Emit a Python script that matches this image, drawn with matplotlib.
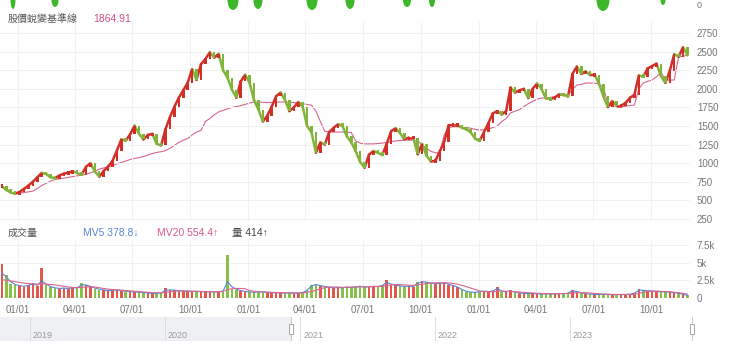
import numpy as np
import pandas as pd
import matplotlib
matplotlib.use('Agg')
import matplotlib.pyplot as plt
import matplotlib.dates as mdates
from matplotlib.patches import Ellipse, Rectangle
from matplotlib.collections import LineCollection

plt.rcParams['font.family'] = ['Liberation Sans', 'Noto Sans CJK TC', 'DejaVu Sans']

# weekly candles, Dec 2020 - Nov 2023
closes = [
    690, 640, 605, 590, 615, 655, 700, 750, 810, 870,
    855, 810, 800, 835, 860, 872, 893, 868, 845, 950,
    1000, 890, 820, 895, 955, 1030, 1170, 1320, 1303, 1390,
    1505, 1395, 1320, 1380, 1395, 1260, 1240, 1460, 1621, 1760,
    1880, 1980, 2080, 2265, 2120, 2330, 2400, 2490, 2420, 2470,
    2250, 2150, 1990, 1880, 2100, 2190, 2080, 1850, 1720, 1560,
    1640, 1760, 1900, 1950, 1850, 1700, 1750, 1823, 1760, 1500,
    1415, 1140, 1280, 1250, 1420, 1475, 1525, 1500, 1360, 1280,
    1160, 1016, 940, 1115, 1165, 1140, 1110, 1260, 1430, 1470,
    1405, 1320, 1345, 1345, 1120, 1260, 1100, 1025, 1030, 1160,
    1290, 1510, 1512, 1512, 1476, 1455, 1415, 1330, 1300, 1420,
    1540, 1670, 1700, 1655, 1700, 2020, 1950, 1980, 2000, 1876,
    2000, 2070, 2000, 1870, 1865, 1880, 1930, 1915, 1900, 2200,
    2300, 2200, 2235, 2185, 2190, 2070, 1900, 1755, 1835, 1775,
    1775, 1810, 1880, 1920, 2180, 2160, 2275, 2305, 2340, 2170,
    2080, 2240, 2465, 2430, 2560, 2450,
]

# 股價蛻變基準線
baseline = [
    np.nan, np.nan, np.nan, np.nan, 600, 605, 615, 625, 660, 700,
    730, 760, 780, 790, 800, 810, 820, 830, 840, 850,
    870, 890, 920, 936, 950, 970, 990, 1010, 1030, 1050,
    1065, 1075, 1090, 1110, 1130, 1145, 1155, 1170, 1200, 1240,
    1280, 1310, 1330, 1380, 1419, 1440, 1560, 1600, 1650, 1690,
    1710, 1730, 1750, 1760, 1775, 1790, 1810, 1823, 1823, 1820,
    1815, 1815, 1820, 1823, 1823, 1820, 1815, 1810, 1800, 1790,
    1780, 1700, 1560, 1430, 1419, 1419, 1419, 1419, 1419, 1410,
    1300, 1270, 1260, 1260, 1260, 1265, 1270, 1280, 1290, 1300,
    1305, 1310, 1310, 1310, 1300, 1250, 1200, 1160, 1140, 1137,
    1380, 1480, 1490, 1490, 1487, 1480, 1470, 1455, 1446, 1450,
    1460, 1480, 1500, 1560, 1600, 1675, 1700, 1720, 1760, 1800,
    1830, 1860, 1876, 1880, 1885, 1895, 1910, 1917, 1925, 1990,
    2051, 2060, 2078, 2078, 2078, 2060, 2020, 1800, 1760, 1755,
    1755, 1765, 1775, 1782, 2000, 2078, 2100, 2118, 2160, 2226,
    2118, 2118, 2118, 2428, 2440, 2450,
]

volume = [
    4800, 3200, 2000, 1900, 1700, 1600, 1900, 2100, 1700, 4200,
    1800, 1500, 1400, 1300, 1400, 1300, 1500, 1400, 2100, 1900,
    1600, 1300, 1200, 1100, 1000, 1100, 1200, 1000, 900, 900,
    850, 800, 750, 700, 600, 650, 700, 1400, 1200, 1100,
    1000, 1000, 950, 900, 950, 900, 850, 900, 850, 900,
    1000, 6100, 1300, 1200, 1000, 900, 850, 800, 900, 850,
    800, 750, 700, 750, 700, 700, 650, 700, 800, 1200,
    1900, 2000, 1700, 1600, 1500, 1400, 1500, 1400, 1600, 1500,
    1600, 1700, 1500, 1600, 1700, 1600, 1800, 2600, 1900, 1800,
    1700, 1600, 1700, 1600, 2300, 2400, 2200, 2100, 2000, 2100,
    2200, 1900, 1700, 1500, 1100, 900, 800, 800, 900, 1000,
    900, 1000, 1600, 900, 800, 1100, 800, 700, 650, 600,
    650, 600, 550, 600, 550, 600, 650, 600, 700, 1100,
    900, 700, 600, 550, 500, 500, 550, 500, 450, 500,
    450, 500, 550, 700, 1300, 1100, 1000, 1000, 900, 850,
    900, 800, 750, 650, 500, 414,
]

mv5 = [
    3500, 3000, 2300, 1900, 1750, 1650, 1800, 1950, 1800, 2400,
    2000, 1600, 1450, 1350, 1400, 1350, 1450, 1450, 1850, 1850,
    1650, 1400, 1250, 1150, 1050, 1100, 1150, 1050, 950, 900,
    850, 820, 780, 720, 650, 650, 700, 1100, 1150, 1100,
    1020, 1000, 960, 920, 940, 910, 870, 880, 860, 880,
    980, 2300, 1600, 1250, 1050, 920, 860, 820, 870, 850,
    800, 760, 720, 740, 710, 700, 670, 690, 780, 1100,
    1700, 1900, 1750, 1620, 1520, 1430, 1480, 1420, 1560, 1510,
    1580, 1660, 1540, 1580, 1660, 1620, 1760, 2200, 1950, 1820,
    1720, 1630, 1680, 1620, 2100, 2300, 2230, 2120, 2030, 2080,
    2150, 1950, 1750, 1550, 1200, 950, 830, 800, 880, 970,
    920, 980, 1350, 1000, 830, 1000, 850, 720, 660, 620,
    640, 610, 560, 590, 560, 590, 640, 610, 680, 1000,
    920, 740, 630, 560, 510, 500, 540, 510, 460, 490,
    460, 490, 540, 670, 1100, 1100, 1020, 1000, 920, 860,
    880, 820, 760, 670, 520, 378.8,
]

mv20 = [
    2600, 2500, 2400, 2300, 2200, 2100, 2050, 2000, 1950, 2000,
    1950, 1900, 1850, 1750, 1650, 1550, 1500, 1450, 1500, 1550,
    1600, 1550, 1450, 1350, 1250, 1200, 1150, 1100, 1050, 1000,
    950, 900, 850, 800, 760, 730, 720, 800, 880, 950,
    1000, 1000, 980, 960, 940, 920, 900, 890, 880, 880,
    900, 1200, 1300, 1350, 1350, 1300, 1050, 950, 880, 850,
    820, 800, 780, 760, 740, 730, 720, 710, 720, 800,
    950, 1100, 1300, 1450, 1550, 1550, 1550, 1500, 1500, 1520,
    1550, 1580, 1600, 1600, 1620, 1640, 1650, 1750, 1850, 1900,
    1900, 1850, 1800, 1780, 1850, 1950, 2050, 2100, 2150, 2150,
    2150, 2120, 2050, 1950, 1800, 1600, 1400, 1200, 1000, 900,
    880, 880, 950, 980, 950, 920, 900, 850, 800, 750,
    700, 670, 650, 630, 610, 600, 610, 620, 640, 700,
    750, 760, 740, 700, 650, 600, 560, 540, 520, 500,
    500, 500, 510, 540, 650, 800, 900, 950, 980, 950,
    920, 880, 820, 750, 650, 554.4,
]

base_label = '1864.91'
years = [2019, 2020, 2021, 2022, 2023]

dates = pd.date_range('2020-12-07', periods=len(closes), freq='7D')
closes = np.array(closes, dtype=float)
opens = np.r_[closes[0], closes[:-1]]
up = closes >= opens

RED = '#d22f29'
GREEN = '#82b33a'
VRED = '#e4574b'
VGREEN = '#86c24a'
PINK = '#d9668f'
BLUE = '#5a86d6'
GRID = '#f1f1f1'
TXT = '#777777'

W, H = 740, 346
fig = plt.figure(figsize=(W / 100, H / 100), dpi=100)


def px_axes(x0, y0, x1, y1):
    return fig.add_axes([x0 / W, 1 - y1 / H, (x1 - x0) / W, (y1 - y0) / H])


xmin, xmax = pd.Timestamp('2020-12-04'), pd.Timestamp('2023-12-01')

# ---- price panel
ax = px_axes(0, 22, 690, 222)
xd = mdates.date2num(dates)
segs = [[(xd[i - 1], closes[i - 1]), (xd[i], closes[i])] for i in range(1, len(xd))]
ax.add_collection(LineCollection(segs, colors=np.where(up[1:], RED, GREEN),
                                 linewidths=1.8, capstyle='round', zorder=2))
body = np.abs(closes - opens)
body_h = np.maximum(body, 50)
ax.bar(dates, body_h, bottom=np.minimum(opens, closes) - (body_h - body) / 2,
       width=4.0, color=np.where(up, RED, GREEN), linewidth=0, zorder=3)
ax.plot(dates, baseline, color=PINK, lw=0.8, zorder=1)
ax.set_xlim(xmin, xmax)
ax.set_ylim(210, 2898)
ax.set_yticks(np.arange(250, 2751, 250))
ax.yaxis.tick_right()
ax.tick_params(axis='y', length=0, pad=5, labelsize=7, labelcolor=TXT)
ax.tick_params(axis='x', length=0, labelbottom=False)
ax.xaxis.set_major_locator(mdates.MonthLocator(bymonth=[1, 4, 7, 10]))
ax.grid(True, color=GRID, lw=0.7, zorder=0)
for s in ax.spines.values():
    s.set_visible(False)

# ---- volume panel
av = px_axes(0, 240, 690, 298)
av.bar(dates, volume, width=4.0, color=np.where(up, VRED, VGREEN),
       linewidth=0, zorder=2)
av.plot(dates, mv5, color=BLUE, lw=0.8, zorder=3)
av.plot(dates, mv20, color=PINK, lw=0.8, zorder=3)
av.set_xlim(xmin, xmax)
av.set_ylim(0, 8192)
av.set_yticks([0, 2500, 5000, 7500])
av.set_yticklabels(['0', '2.5k', '5k', '7.5k'])
av.yaxis.tick_right()
av.tick_params(axis='y', length=0, pad=5, labelsize=7, labelcolor=TXT)
av.xaxis.set_major_locator(mdates.MonthLocator(bymonth=[1, 4, 7, 10]))
av.xaxis.set_major_formatter(mdates.DateFormatter('%m/%d'))
av.tick_params(axis='x', length=0, pad=5, labelsize=7, labelcolor=TXT)
av.grid(True, color=GRID, lw=0.7, zorder=0)
for s in av.spines.values():
    s.set_visible(False)

# ---- headers
fig.text(8 / W, 1 - 19 / H, '股價蛻變基準線', fontsize=7.2, color='#555555', va='center')
fig.text(93 / W, 1 - 19 / H, base_label, fontsize=7.5, color='#d4508a', va='center')
fig.text(8 / W, 1 - 233 / H, '成交量', fontsize=7.2, color='#555555', va='center')
fig.text(83 / W, 1 - 233 / H, f'MV5 {mv5[-1]:.1f}↓', fontsize=7.5, color=BLUE, va='center')
fig.text(157 / W, 1 - 233 / H, f'MV20 {mv20[-1]:.1f}↑', fontsize=7.5, color='#dc5a82', va='center')
fig.text(232 / W, 1 - 233 / H, f'量 {volume[-1]}↑', fontsize=7.5, color='#444444', va='center')
fig.text(697 / W, 1 - 6 / H, '0', fontsize=6.5, color=TXT, va='center')

# clipped bits from the panel above
top = fig.add_axes([0, 0, 1, 1], zorder=-1)
top.set_xlim(0, W)
top.set_ylim(H, 0)
top.axis('off')
for cx, w, h in [(13, 5, 18), (55, 7, 14), (233, 11, 20), (258, 9, 18), (312, 11, 20),
                 (350, 9, 18), (407, 8, 14), (432, 6, 14), (603, 13, 22), (663, 5, 10)]:
    top.add_patch(Ellipse((cx, 0), w, h, color='#3cb82a', lw=0))

# ---- range navigator
nav = px_axes(0, 317, W, 341)
nav.set_xlim(pd.Timestamp('2018-10-12'), pd.Timestamp('2024-04-05'))
nav.set_ylim(0, 1)
nav.axis('off')
nav.axvspan(pd.Timestamp('2018-10-12'), dates[0], color='#eef0f3', lw=0)
nav.plot([pd.Timestamp('2018-10-12'), dates[-1]], [0.01, 0.01], color='#d5d5d5', lw=0.8)
for yr in years:
    d = pd.Timestamp(f'{yr}-01-01')
    nav.axvline(d, color='#dcdcdc', lw=0.7)
    nav.text(d + pd.Timedelta(days=8), 0.22, str(yr), fontsize=6.5, color='#9a9a9a', va='center')
for d in [dates[0], dates[-1]]:
    nav.axvline(d, color='#c8c8c8', lw=0.7)
    nav.add_patch(Rectangle((mdates.date2num(d) - 5, 0.3), 10, 0.42, facecolor='white',
                            edgecolor='#999999', lw=0.6, zorder=4))

fig.savefig('out.png', dpi=100)
plt.close(fig)
